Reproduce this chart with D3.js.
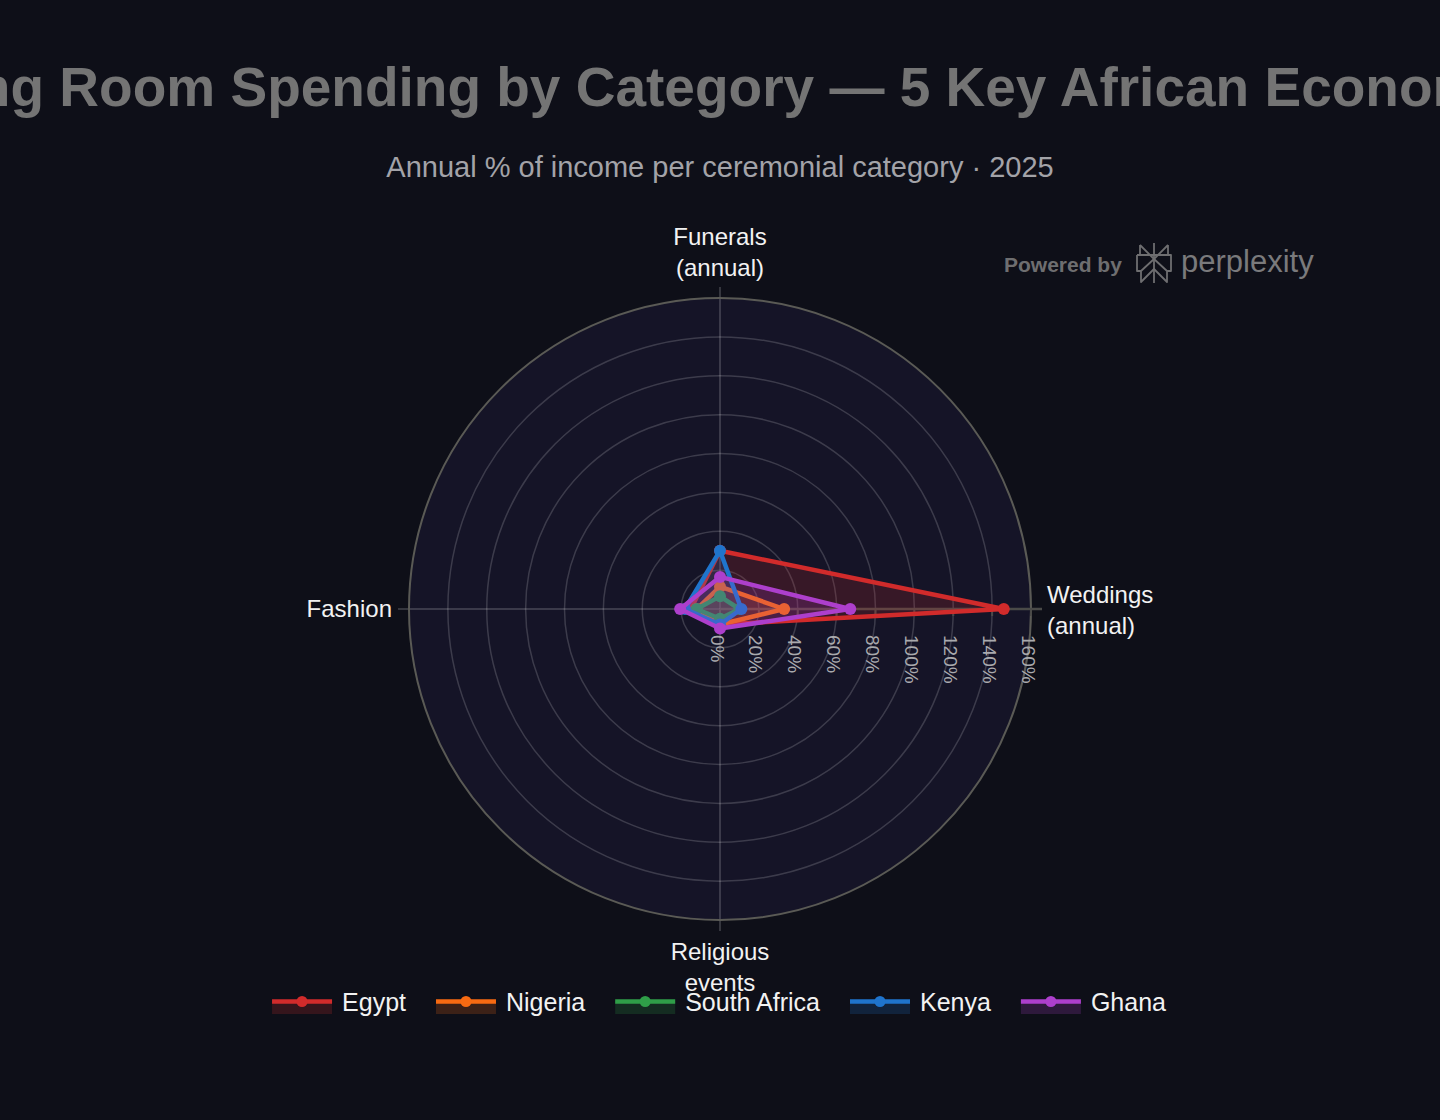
<!DOCTYPE html>
<html>
<head>
<meta charset="utf-8">
<script src="https://cdn.jsdelivr.net/npm/d3@7"></script>
<style>
  html, body { margin: 0; padding: 0; background: #0e0f18; }
  svg { display: block; font-family: "Liberation Sans", Arial, Helvetica, sans-serif; }
</style>
</head>
<body>
<div id="chart"></div>
<script>
const width = 1440;
const height = 1120;

// categories around the radar, counterclockwise from 3 o'clock
const categories = ["Weddings\n(annual)", "Funerals\n(annual)", "Fashion", "Religious\nevents"];
const countries = ["Egypt", "Nigeria", "South Africa", "Kenya", "Ghana"];
const colors = ["#d12b2b", "#f76a12", "#2f9e48", "#1f74cc", "#ad3fcc"];

// % of annual income per category (same order as categories)
const egypt = [146, 30, 15, 8];
const nigeria = [33, 11.5, 12, 8];
const southAfrica = [10, 6.5, 12, 5];
const kenya = [11, 30, 18, 8];
const ghana = [67, 16.5, 20.5, 10];
const seriesValues = [egypt, nigeria, southAfrica, kenya, ghana];

const radialMax = 160;
const tickStep = 20;

const cx = 720, cy = 609, R = 311;

const svg = d3.select("#chart").append("svg")
    .attr("width", width)
    .attr("height", height)
    .attr("viewBox", [0, 0, width, height]);

svg.append("rect").attr("width", width).attr("height", height).attr("fill", "#0e0f18");

// title + subtitle
svg.append("text")
    .attr("x", width / 2).attr("y", 106)
    .attr("text-anchor", "middle")
    .attr("font-size", 55)
    .attr("font-weight", "bold")
    .attr("fill", "#747474")
    .text("Living Room Spending by Category \u2014 5 Key African Economies");

svg.append("text")
    .attr("x", width / 2).attr("y", 177)
    .attr("text-anchor", "middle")
    .attr("font-size", 29)
    .attr("fill", "#a3a3a8")
    .text("Annual % of income per ceremonial category \u00b7 2025");

// scales
const r = d3.scaleLinear().domain([0, radialMax]).range([0, R]);
const angle = d3.scalePoint().domain(d3.range(categories.length)).range([0, 2 * Math.PI * (categories.length - 1) / categories.length]);
// d3 radial angle: 0 at 12 o'clock, clockwise; our 0 is at 3 o'clock, counterclockwise
const a = i => Math.PI / 2 - angle(i);

const g = svg.append("g").attr("transform", `translate(${cx},${cy})`);

g.append("circle").attr("r", R).attr("fill", "#151427");

// grid rings
const ticks = d3.range(0, radialMax + 1, tickStep);
g.selectAll(".ring")
    .data(ticks.filter(t => t > 0 && t < radialMax))
    .join("circle")
    .attr("class", "ring")
    .attr("r", d => r(d))
    .attr("fill", "none")
    .attr("stroke", "rgba(255,255,255,0.17)")
    .attr("stroke-width", 1.5);

// spokes
g.selectAll(".spoke")
    .data(d3.range(categories.length))
    .join("line")
    .attr("class", "spoke")
    .attr("x1", 0).attr("y1", 0)
    .attr("x2", i => Math.sin(a(i)) * (R + 11))
    .attr("y2", i => -Math.cos(a(i)) * (R + 11))
    .attr("stroke", "rgba(255,255,255,0.22)")
    .attr("stroke-width", 1.5);

// outer frame
g.append("circle").attr("r", R)
    .attr("fill", "none")
    .attr("stroke", "#5a5a55")
    .attr("stroke-width", 2);

// radial axis along the 0 angle
g.append("line")
    .attr("x1", 0).attr("y1", 0)
    .attr("x2", R + 11).attr("y2", 0)
    .attr("stroke", "#4a4a48")
    .attr("stroke-width", 2.5);

const rTicks = g.selectAll(".rtick")
    .data(ticks)
    .join("g")
    .attr("class", "rtick")
    .attr("transform", d => `translate(${r(d)},0)`);

rTicks.append("line")
    .attr("y1", 0).attr("y2", 7)
    .attr("stroke", "#4a4a48")
    .attr("stroke-width", 2);

rTicks.append("text")
    .attr("transform", "translate(-3,26) rotate(90)")
    .attr("dominant-baseline", "central")
    .attr("font-size", 19)
    .attr("fill", "#a9a9ad")
    .text(d => d + "%");

// category labels
const labelPos = [
    { x: R + 16, y: -6, anchor: "start" },
    { x: 0, y: -R - 53, anchor: "middle" },
    { x: -R - 17, y: 8, anchor: "end" },
    { x: 0, y: R + 40, anchor: "middle" }
];
categories.forEach((c, i) => {
    const lines = c.split("\n");
    const p = labelPos[i];
    const t = g.append("text")
        .attr("text-anchor", p.anchor)
        .attr("font-size", 24)
        .attr("fill", "#f2f2f2");
    lines.forEach((ln, k) => {
        t.append("tspan").attr("x", p.x).attr("y", p.y + k * 31).text(ln);
    });
});

// series
const radial = d3.lineRadial()
    .angle((d, i) => a(i))
    .radius(d => r(d))
    .curve(d3.curveLinearClosed);

seriesValues.forEach((vals, s) => {
    const sg = g.append("g");
    sg.append("path")
        .attr("d", radial(vals))
        .attr("fill", colors[s])
        .attr("fill-opacity", 0.18)
        .attr("stroke", colors[s])
        .attr("stroke-width", 4.5)
        .attr("stroke-linejoin", "round");
    sg.selectAll("circle")
        .data(vals)
        .join("circle")
        .attr("cx", (d, i) => Math.sin(a(i)) * r(d))
        .attr("cy", (d, i) => -Math.cos(a(i)) * r(d))
        .attr("r", 6)
        .attr("fill", colors[s]);
});

// legend
const legend = svg.append("g");
let lx = 0;
countries.forEach((name, s) => {
    const it = legend.append("g");
    it.append("rect")
        .attr("x", 0).attr("y", 0).attr("width", 60).attr("height", 13)
        .attr("fill", colors[s]).attr("fill-opacity", 0.2);
    it.append("line")
        .attr("x1", 0).attr("x2", 60).attr("y1", 0.5).attr("y2", 0.5)
        .attr("stroke", colors[s]).attr("stroke-width", 4.5);
    it.append("circle").attr("cx", 30).attr("cy", 0.5).attr("r", 5.5).attr("fill", colors[s]);
    const tx = it.append("text")
        .attr("x", 70).attr("y", 10)
        .attr("font-size", 25)
        .attr("fill", "#f2f2f2")
        .text(name);
    const w = 70 + tx.node().getComputedTextLength();
    it.attr("transform", `translate(${lx},0)`);
    lx += w + 30;
});
const total = lx - 30;
legend.attr("transform", `translate(${(width - total) / 2 - 1},1001)`);

// powered-by mark
const logo = svg.append("g").attr("fill", "#6e6e70").attr("stroke", "#6e6e70");
logo.append("text")
    .attr("x", 1004).attr("y", 272)
    .attr("stroke", "none")
    .attr("font-size", 21)
    .attr("font-weight", "bold")
    .text("Powered by");
const ic = logo.append("g").attr("fill", "none").attr("stroke-width", 1.8).attr("stroke-linejoin", "round");
ic.append("path").attr("d", "M1154,243 V283");
ic.append("path").attr("d", "M1140,245 L1154,259 L1168,245 M1140,245 V255 M1168,245 V255");
ic.append("path").attr("d", "M1137,255 H1171 V271 H1167 M1137,255 V271 H1141");
ic.append("path").attr("d", "M1154,259 L1141,271 V282 L1154,269 L1167,282 V271 L1154,259");
logo.append("text")
    .attr("x", 1181).attr("y", 272)
    .attr("stroke", "none")
    .attr("font-size", 31)
    .attr("fill", "#7a7a7c")
    .text("perplexity");
</script>
</body>
</html>
